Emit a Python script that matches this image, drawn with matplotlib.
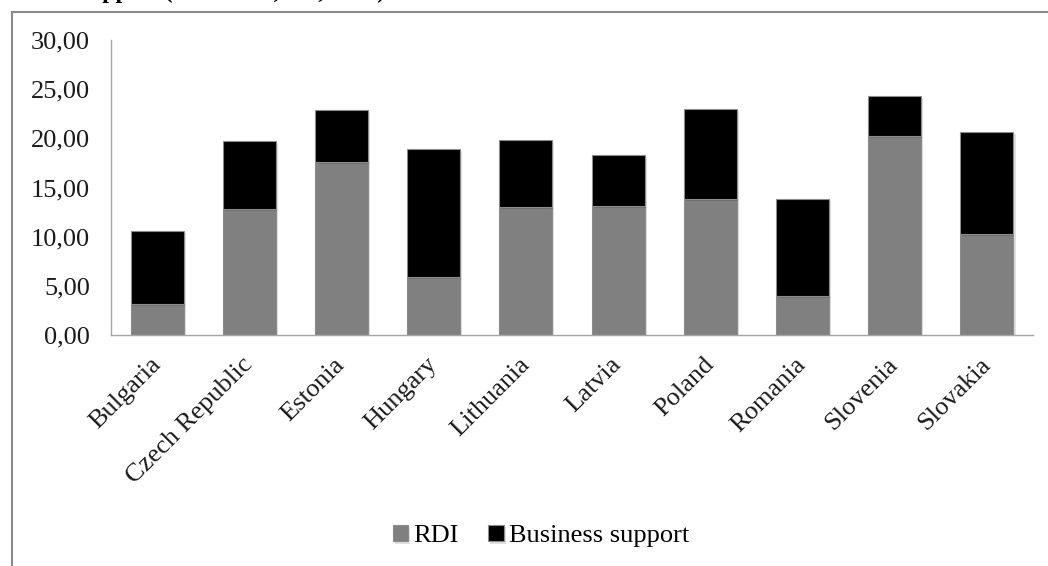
import numpy as np
import matplotlib
matplotlib.use('Agg')
from matplotlib import pyplot as plt
from matplotlib import patheffects as pe
from matplotlib.lines import Line2D

countries = ['Bulgaria', 'Czech Republic', 'Estonia', 'Hungary', 'Lithuania',
             'Latvia', 'Poland', 'Romania', 'Slovenia', 'Slovakia']
rdi = [3.20, 12.86, 17.56, 5.93, 12.98, 13.09, 13.80, 4.00, 20.27, 10.24]
business = [7.40, 6.87, 5.32, 13.02, 6.88, 5.25, 9.22, 9.80, 4.07, 10.40]
yticks = [0, 5, 10, 15, 20, 25, 30]

plt.rcParams['font.family'] = ['Liberation Serif', 'DejaVu Serif']

fig = plt.figure(figsize=(10.48, 5.66), dpi=100)
ax = fig.add_axes([0.1059, 0.4081, 0.8798, 0.5212])

x = np.arange(len(countries))
shadow = [pe.SimplePatchShadow(offset=(1.5, -1.5), shadow_rgbFace='black', alpha=0.12), pe.Normal()]
b1 = ax.bar(x, rdi, width=0.575, color='#808080', edgecolor='#8c8c8c', linewidth=0.8, label='RDI')
b2 = ax.bar(x, business, width=0.575, bottom=rdi, color='black', edgecolor='#8c8c8c',
            linewidth=0.8, label='Business support')
for bar in list(b1) + list(b2):
    bar.set_path_effects(shadow)

ax.set_xlim(-0.5, len(countries) - 0.5)
ax.set_ylim(0, 30)
ax.set_yticks(yticks)
ax.set_yticklabels([f'{v:.2f}'.replace('.', ',') for v in yticks])
ax.set_xticks(x)
ax.set_xticklabels(countries, rotation=45, ha='right', va='center', rotation_mode='anchor')
ax.tick_params(axis='both', length=0, labelsize=19, colors='#1a1a1a')
ax.tick_params(axis='y', pad=15)
ax.tick_params(axis='x', pad=19)

for side in ['top', 'right']:
    ax.spines[side].set_visible(False)
for side in ['left', 'bottom']:
    ax.spines[side].set_color('#a6a6a6')
    ax.spines[side].set_linewidth(1.0)

fig.legend(handles=[b1, b2], loc='center', bbox_to_anchor=(541 / 1048, 1 - 536 / 566), ncol=2,
           frameon=False, fontsize=19, handlelength=0.6, handleheight=0.6,
           handletextpad=0.2, columnspacing=1.1)

# chart border (only left and top edges fall inside the image)
fig.add_artist(Line2D([12 / 1048, 12 / 1048], [0, 1 - 12 / 566], color='#8a8a8a', lw=1.5))
fig.add_artist(Line2D([12 / 1048, 1], [1 - 12 / 566, 1 - 12 / 566], color='#8a8a8a', lw=1.5))

# title sits mostly above the top edge
fig.text(385 / 1048, 1.003, 'Share of RDI and business support (% of total, EU, 2013)',
         ha='right', va='baseline', fontsize=17, fontweight='bold')

fig.savefig('out.png', dpi=100)
